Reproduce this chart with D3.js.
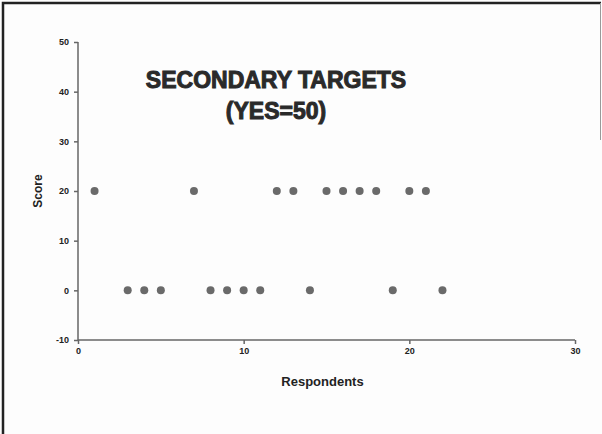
<!DOCTYPE html>
<html>
<head>
  <meta charset="utf-8">
  <style>
    body{
      margin:0;
      background:#fff;
      font-family: "Liberation Sans", Arial, sans-serif;
    }
    .tick text{
      font-size:9px;
      font-weight:bold;
      fill:#222;
    }
    .axis-label{
      font-size:13px;
      font-weight:bold;
      fill:#222;
    }
    .title{
      font-size:23px;
      font-weight:bold;
      fill:#2a2a2a;
      stroke:#2a2a2a;
      stroke-width:1px;
    }
  </style>
  <script src="https://d3js.org/d3.v7.min.js"></script>
</head>
<body>
<div class="chart"></div>
<script>
const respondents = [1, 3, 4, 5, 7, 8, 9, 10, 11, 12, 13, 14, 15, 16, 17, 18, 19, 20, 21, 22];
const scores      = [20, 0, 0, 0, 20, 0, 0, 0, 0, 20, 20, 0, 20, 20, 20, 20, 0, 20, 20, 0];
const xTicks = [0, 10, 20, 30];
const yTicks = [-10, 0, 10, 20, 30, 40, 50];
const titleLines = ['SECONDARY TARGETS', '(YES=50)'];

const width = 602, height = 434;
const margin = {left:78, right:27, top:42, bottom:94};

const svg = d3.select('.chart').append('svg')
  .attr('width', width)
  .attr('height', height);

// frame: heavy on top and left like the scanned original
svg.append('rect').attr('width', width).attr('height', height).attr('fill', '#fdfdfd');
svg.append('path')
  .attr('d', `M3,${height} V3 H${width - 1}`)
  .attr('fill', 'none')
  .attr('stroke', '#222')
  .attr('stroke-width', 2.5);
svg.append('line')
  .attr('x1', width - 1.5).attr('x2', width - 1.5)
  .attr('y1', 3).attr('y2', 140)
  .attr('stroke', '#999').attr('stroke-width', 1);

const x = d3.scaleLinear().domain([0, 30]).range([margin.left, width - margin.right]);
const y = d3.scaleLinear().domain([-10, 50]).range([height - margin.bottom, margin.top]);

const axisColor = '#666';
const fmt = d => String(d); // plain hyphen for negatives, as in the original

svg.append('g')
  .attr('transform', `translate(0,${y(-10)})`)
  .call(d3.axisBottom(x).tickValues(xTicks).tickFormat(fmt).tickSize(4).tickPadding(4))
  .call(g => g.selectAll('path,line').attr('stroke', axisColor).attr('stroke-width', 1.5))
  .call(g => g.select('.domain').attr('d', `M${x(0)},0H${x(30)}`));

svg.append('g')
  .attr('transform', `translate(${x(0)},0)`)
  .call(d3.axisLeft(y).tickValues(yTicks).tickFormat(fmt).tickSize(4).tickPadding(5))
  .call(g => g.selectAll('path,line').attr('stroke', axisColor).attr('stroke-width', 1.5))
  .call(g => g.select('.domain').attr('d', `M0,${y(-10)}V${y(50)}`));

svg.selectAll('circle.pt')
  .data(respondents.map((r, i) => ({r, s: scores[i]})))
  .join('circle')
  .attr('class', 'pt')
  .attr('cx', d => x(d.r))
  .attr('cy', d => y(d.s))
  .attr('r', 4)
  .attr('fill', '#6a6a6a');

svg.append('text')
  .attr('class', 'axis-label')
  .attr('x', x(15) - 4)
  .attr('y', 386)
  .attr('text-anchor', 'middle')
  .text('Respondents');

svg.append('text')
  .attr('class', 'axis-label')
  .attr('transform', `translate(42,${y(20)}) rotate(-90)`)
  .attr('text-anchor', 'middle')
  .style('font-size', '12px')
  .text('Score');

svg.append('text')
  .attr('class', 'title')
  .attr('text-anchor', 'middle')
  .selectAll('tspan')
  .data(titleLines)
  .join('tspan')
  .attr('x', 276)
  .attr('y', (d, i) => 88 + i * 31)
  .text(d => d);
</script>
</body>
</html>
